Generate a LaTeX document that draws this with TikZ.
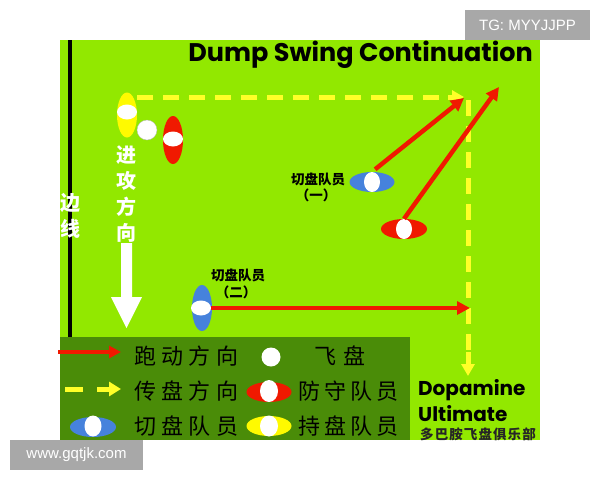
\documentclass[tikz,border=0pt]{standalone}
\usepackage{fontspec}
\setmainfont{Liberation Sans}
\newfontfamily\cjk{Noto Sans CJK SC}
\newfontfamily\cjkl[LetterSpace=24]{Noto Sans CJK SC}
\newfontfamily\cjks[LetterSpace=8]{Noto Sans CJK SC}
\newfontfamily\titlefont{Poppins}
\usetikzlibrary{shapes.geometric,arrows.meta}
\definecolor{field}{RGB}{146,232,0}
\definecolor{legendgreen}{RGB}{74,140,8}
\definecolor{runred}{RGB}{240,25,0}
\definecolor{passyellow}{RGB}{255,255,40}
\definecolor{holdyellow}{RGB}{255,250,0}
\definecolor{cutblue}{RGB}{70,130,220}
\definecolor{wmgray}{RGB}{168,168,168}
\tikzset{
  player/.style={ellipse, draw=none, inner sep=0pt},
  disc/.style={ellipse, fill=white, draw=none, inner sep=0pt},
  run/.style={draw=runred, line width=4.5pt, -{Triangle[length=13pt,width=13pt]}},
  pass/.style={draw=passyellow, line width=5pt, dash pattern=on 16pt off 10pt},
  passtip/.style={draw=passyellow, line width=5pt, -{Triangle[length=12pt,width=13pt]}},
  cutlabel/.style={font=\cjk\bfseries\fontsize{13.5}{15}\selectfont, text=black, align=center, inner sep=0pt},
  vert/.style={font=\cjk\bfseries\fontsize{20}{26}\selectfont, text=white, align=center, inner sep=0pt},
  legtext/.style={font=\cjkl\fontsize{22}{24}\selectfont, text=black, anchor=west, inner sep=0pt},
  wm/.style={fill=wmgray, text=white, font=\fontsize{15}{17}\selectfont, inner sep=0pt},
  brand/.style={font=\titlefont\bfseries\fontsize{20}{22}\selectfont, anchor=base west, inner sep=0pt, text depth=0pt},
}
\begin{document}
\begin{tikzpicture}[x=1pt,y=-1pt]
\useasboundingbox (0,0) rectangle (600,480);
\fill[white] (0,0) rectangle (600,480);
% field
\fill[field] (60,40) rectangle (540,440);
\fill[legendgreen] (60,337) rectangle (410,440);
\draw[black, line width=4pt] (70,40) -- (70,337);
% title
\node[font=\titlefont\bfseries\fontsize{25.5}{28}\selectfont, anchor=east, inner sep=0pt] (title) at (533,55) {Dump Swing Continuation};
% pass lines
\coordinate (p1) at (137,97);
\coordinate (p2) at (464,97);
\coordinate (p3) at (468,100);
\coordinate (p4) at (468,360);
\coordinate (p5) at (468,376);
\draw[pass] (p1) -- (452,97);
\draw[passtip] (448,97) -- (p2);
\draw[pass] (p3) -- (p4);
\draw[passtip] (468,352) -- (p5);
% sideline text and attack direction
\node[vert] (side) at (70,216) {边\\线};
\node[vert] (attack) at (126,194) {进\\攻\\方\\向};
\fill[white] (121,243) -- (132,243) -- (132,297) -- (142,297) -- (126.5,328) -- (111,297) -- (121,297) -- cycle;
% players
\node[player, fill=holdyellow, minimum width=20, minimum height=45] (holder) at (127,115) {};
\node[disc, minimum width=20, minimum height=15] (holderdisc) at (127,112) {};
\node[disc, minimum width=20, minimum height=20, draw=black!30, line width=0.3pt] (frisbee) at (147,130) {};
\node[player, fill=runred, minimum width=20, minimum height=48] (def1) at (173,140) {};
\node[disc, minimum width=20, minimum height=15] (def1disc) at (173,139) {};
\node[player, fill=cutblue, minimum width=45, minimum height=20] (cut1) at (372,182) {};
\node[disc, minimum width=16, minimum height=20] (cut1disc) at (372,182) {};
\node[player, fill=runred, minimum width=46, minimum height=20] (def2) at (404,229) {};
\node[disc, minimum width=16, minimum height=20] (def2disc) at (404,229) {};
\node[player, fill=cutblue, minimum width=20, minimum height=46] (cut2) at (202,308) {};
\node[disc, minimum width=20, minimum height=15] (cut2disc) at (201,308) {};
% labels
\node[cutlabel] (lab1) at (318,179) {切盘队员};
\node[cutlabel] (lab1b) at (316,195) {（一）};
\node[cutlabel] (lab2) at (238,275) {切盘队员};
\node[cutlabel] (lab2b) at (236,292) {（二）};
% runs
\coordinate (t1) at (464,98);
\coordinate (t2) at (499,87);
\coordinate (t3) at (470,308);
\draw[run, shorten <=4pt] (cut1.north) -- (t1);
\draw[run] (def2.north) -- (t2);
\draw[run] (cut2disc.east) -- (t3);
% legend
\coordinate (l1a) at (58,352);
\coordinate (l1b) at (121,352);
\draw[run, line width=4pt, -{Triangle[length=12pt,width=12pt]}] (l1a) -- (l1b);
\node[legtext] (lt1) at (134,356) {跑动方向};
\node[disc, minimum width=19, minimum height=19] (legdisc) at (271,357) {};
\node[legtext, anchor=center] (lt2) at (340,356) {飞\hspace{8pt}盘};
\coordinate (l2a) at (65,389);
\coordinate (l2b) at (83,389);
\coordinate (l2c) at (97,389);
\coordinate (l2d) at (121,389);
\draw[draw=passyellow, line width=5pt] (l2a) -- (l2b);
\draw[passtip, -{Triangle[length=12pt,width=14pt]}] (l2c) -- (l2d);
\node[legtext] (lt3) at (134,391) {传盘方向};
\node[player, fill=runred, minimum width=45, minimum height=20] (legdef) at (269,392) {};
\node[disc, minimum width=18, minimum height=22] (legdefdisc) at (269,391) {};
\node[legtext, font=\cjk\fontsize{22}{24}\selectfont] (lt4) at (298,391) {防\hspace{4pt}守\hspace{4pt}队\hspace{4pt}员};
\node[player, fill=cutblue, minimum width=46, minimum height=20] (legcut) at (93,427) {};
\node[disc, minimum width=17, minimum height=21] (legcutdisc) at (93,426) {};
\node[legtext] (lt5) at (134,426) {切盘队员};
\node[player, fill=holdyellow, minimum width=45, minimum height=20] (leghold) at (269,426) {};
\node[disc, minimum width=18, minimum height=21] (legholddisc) at (269,426) {};
\node[legtext, font=\cjk\fontsize{22}{24}\selectfont] (lt6) at (298,426) {持\hspace{4pt}盘\hspace{4pt}队\hspace{4pt}员};
% club
\node[brand] (dop) at (418,395) {Dopamine};
\node[brand] (ult) at (418,421) {Ultimate};
\node[font=\cjks\bfseries\fontsize{13.5}{15}\selectfont, anchor=west, inner sep=0pt, text=black!85] (club) at (420,434.5) {多巴胺飞盘俱乐部};
% watermarks
\node[wm, minimum width=125, minimum height=30] (wm1) at (527.5,25) {TG: MYYJJPP};
\node[wm, minimum width=133, minimum height=30] (wm2) at (76.5,455) {www.gqtjk.com};
\end{tikzpicture}
\end{document}
